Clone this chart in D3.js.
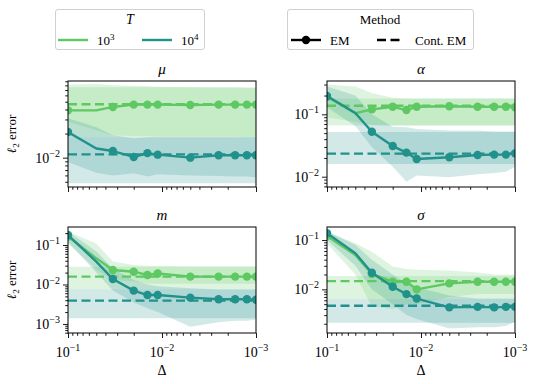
<!DOCTYPE html>
<html>
<head>
<meta charset="utf-8">
<script src="https://cdn.jsdelivr.net/npm/d3@7"></script>
<style>
body { margin: 0; background: #fff; }
svg, svg text, svg tspan { font-family: "Liberation Serif", "DejaVu Serif", "Times New Roman", serif !important; fill: #000; }
</style>
</head>
<body>
<svg id="chart" width="540" height="384" font-family="Liberation Serif, DejaVu Serif, serif"></svg>
<script>
// step sizes (x axis), 0.05 has no marker
const deltas = [0.1, 0.05, 1/30, 0.02, 1/70, 1/90, 0.005, 0.0025, 1/600, 1/800, 0.001];
const marked = [1, 0, 1, 1, 1, 1, 1, 1, 1, 1, 1];
const tExps = ["3", "4"];
const methods = ["EM", "Cont. EM"];

// mu
const muEM3   = [0.039, 0.039, 0.043, 0.046, 0.046, 0.046, 0.0455, 0.046, 0.046, 0.046, 0.046];
const muEM3Lo = [0.028, 0.022, 0.019, 0.0185, 0.0185, 0.0183, 0.0183, 0.0182, 0.0182, 0.018, 0.018];
const muEM3Hi = [0.082, 0.083, 0.08, 0.079, 0.078, 0.077, 0.076, 0.075, 0.075, 0.074, 0.074];
const muEM4   = [0.0209, 0.013, 0.0121, 0.0102, 0.0114, 0.0109, 0.01, 0.0107, 0.0107, 0.0107, 0.0107];
const muEM4Lo = [0.0088, 0.0065, 0.006, 0.0064, 0.0058, 0.0062, 0.006, 0.0059, 0.0058, 0.0058, 0.0057];
const muEM4Hi = [0.031, 0.024, 0.019, 0.0175, 0.018, 0.018, 0.018, 0.018, 0.018, 0.018, 0.018];
const muCont3 = [0.0464, 0.018, 0.076];   // value, low, high
const muCont4 = [0.011, 0.0048, 0.018];

// alpha
const alEM3   = [0.19, 0.104, 0.12, 0.132, 0.117, 0.132, 0.135, 0.132, 0.132, 0.132, 0.13];
const alEM3Lo = [0.09, 0.075, 0.068, 0.066, 0.066, 0.066, 0.066, 0.066, 0.066, 0.066, 0.066];
const alEM3Hi = [0.3, 0.28, 0.22, 0.185, 0.18, 0.18, 0.18, 0.18, 0.18, 0.18, 0.18];
const alEM4   = [0.197, 0.105, 0.0526, 0.031, 0.0243, 0.0192, 0.0205, 0.0223, 0.0226, 0.0226, 0.0237];
const alEM4Lo = [0.13, 0.065, 0.03, 0.0145, 0.0083, 0.0105, 0.0098, 0.011, 0.0115, 0.012, 0.0145];
const alEM4Hi = [0.28, 0.2, 0.1, 0.063, 0.062, 0.058, 0.055, 0.055, 0.053, 0.053, 0.053];
const alCont3 = [0.137, 0.066, 0.18];
const alCont4 = [0.0234, 0.016, 0.052];

// m
const mEM3   = [0.165, 0.046, 0.0233, 0.0211, 0.0174, 0.019, 0.0158, 0.0158, 0.0158, 0.0158, 0.0158];
const mEM3Lo = [0.11, 0.024, 0.013, 0.012, 0.0105, 0.0105, 0.0105, 0.0105, 0.0105, 0.0105, 0.0105];
const mEM3Hi = [0.22, 0.11, 0.038, 0.031, 0.03, 0.03, 0.029, 0.029, 0.029, 0.029, 0.029];
const mEM4   = [0.179, 0.038, 0.0138, 0.007, 0.0054, 0.0054, 0.00464, 0.00423, 0.00423, 0.00423, 0.0041];
const mEM4Lo = [0.12, 0.02, 0.007, 0.0035, 0.0025, 0.002, 0.00085, 0.0011, 0.0012, 0.0012, 0.0013];
const mEM4Hi = [0.22, 0.07, 0.025, 0.013, 0.01, 0.009, 0.008, 0.0075, 0.0075, 0.0075, 0.0075];
const mCont3 = [0.0158, 0.0076, 0.028];
const mCont4 = [0.0039, 0.0014, 0.0076];

// sigma
const sgEM3   = [0.12, 0.05, 0.0205, 0.0143, 0.0143, 0.01, 0.0132, 0.0143, 0.0143, 0.0143, 0.0143];
const sgEM3Lo = [0.085, 0.02, 0.0045, 0.004, 0.005, 0.005, 0.007, 0.008, 0.008, 0.008, 0.008];
const sgEM3Hi = [0.147, 0.086, 0.058, 0.029, 0.026, 0.025, 0.024, 0.022, 0.02, 0.02, 0.02];
const sgEM4   = [0.137, 0.054, 0.0217, 0.0113, 0.008, 0.0065, 0.00431, 0.0044, 0.0043, 0.0044, 0.0044];
const sgEM4Lo = [0.1, 0.03, 0.01, 0.005, 0.003, 0.0025, 0.0016, 0.0017, 0.0017, 0.0018, 0.0022];
const sgEM4Hi = [0.15, 0.08, 0.04, 0.02, 0.013, 0.011, 0.0075, 0.0065, 0.0065, 0.0065, 0.0065];
const sgCont3 = [0.0147, 0.0064, 0.0186];
const sgCont4 = [0.00465, 0.0021, 0.0064];

const colors = ["#5ec962", "#21918c"];
const W = 188, H = 106;
const FONT = "Liberation Serif, DejaVu Serif, serif";

const panels = [
    {title: "μ", left: 68, top: 81, yDomain: [0.0043, 0.0907], yLabel: true, xLabels: false,
     em: [[muEM3, muEM3Lo, muEM3Hi], [muEM4, muEM4Lo, muEM4Hi]], cont: [muCont3, muCont4]},
    {title: "α", left: 327, top: 81, yDomain: [0.00684, 0.342], yLabel: false, xLabels: false,
     em: [[alEM3, alEM3Lo, alEM3Hi], [alEM4, alEM4Lo, alEM4Hi]], cont: [alCont3, alCont4]},
    {title: "m", left: 68, top: 227, yDomain: [0.00059, 0.286], yLabel: true, xLabels: true,
     em: [[mEM3, mEM3Lo, mEM3Hi], [mEM4, mEM4Lo, mEM4Hi]], cont: [mCont3, mCont4]},
    {title: "σ", left: 327, top: 227, yDomain: [0.0013, 0.184], yLabel: false, xLabels: true,
     em: [[sgEM3, sgEM3Lo, sgEM3Hi], [sgEM4, sgEM4Lo, sgEM4Hi]], cont: [sgCont3, sgCont4]}
];

const svg = d3.select("#chart");

// "10" with a superscript exponent
function powLabel(sel, exp, size, supSize) {
    sel.append("tspan").attr("font-size", size).text("10");
    sel.append("tspan").attr("font-size", supSize).attr("dy", -size * 0.42).text(exp);
}

function logTicks(domain) {
    const lo = Math.min(...domain), hi = Math.max(...domain);
    let major = [], minor = [];
    for (let e = -5; e <= 1; e++) {
        for (let k = 1; k < 10; k++) {
            const v = k * Math.pow(10, e);
            if (v >= lo * 0.999 && v <= hi * 1.001) (k === 1 ? major : minor).push(v);
        }
    }
    return {major, minor};
}

panels.forEach((p, pi) => {
    const x = d3.scaleLog().domain([0.1, 0.001]).range([p.left, p.left + W]);
    const y = d3.scaleLog().domain(p.yDomain).range([p.top + H, p.top]);

    const clipId = "clip" + pi;
    svg.append("clipPath").attr("id", clipId).append("rect")
        .attr("x", p.left).attr("y", p.top).attr("width", W).attr("height", H);
    const g = svg.append("g").attr("clip-path", "url(#" + clipId + ")");

    // bands
    [0, 1].forEach(k => {
        const [v, lo, hi] = p.em[k];
        const area = d3.area()
            .x((d, i) => x(deltas[i]))
            .y0((d, i) => y(lo[i]))
            .y1((d, i) => y(hi[i]));
        g.append("path").datum(v).attr("d", area)
            .attr("fill", colors[k]).attr("fill-opacity", 0.2);
        const c = p.cont[k];
        const contArea = d3.area().x(d => x(d)).y0(y(c[1])).y1(y(c[2]));
        g.append("path").datum([0.1, 0.001]).attr("d", contArea)
            .attr("fill", colors[k]).attr("fill-opacity", 0.2);
    });

    // lines
    [0, 1].forEach(k => {
        const [v] = p.em[k];
        const c = p.cont[k];
        g.append("path").datum([0.1, 0.001])
            .attr("d", d3.line().x(d => x(d)).y(y(c[0])))
            .attr("fill", "none").attr("stroke", colors[k])
            .attr("stroke-width", 2.4).attr("stroke-dasharray", "9,4.5");
        g.append("path").datum(v)
            .attr("d", d3.line().x((d, i) => x(deltas[i])).y(d => y(d)))
            .attr("fill", "none").attr("stroke", colors[k])
            .attr("stroke-width", 2.4).attr("stroke-linejoin", "round");
        v.forEach((d, i) => {
            if (!marked[i]) return;
            g.append("circle").attr("cx", x(deltas[i])).attr("cy", y(d))
                .attr("r", 4.2).attr("fill", colors[k]);
        });
    });

    // x axis
    const xt = logTicks([0.1, 0.001]);
    const xAxis = svg.append("g").attr("transform", "translate(0," + (p.top + H) + ")");
    xAxis.call(d3.axisBottom(x).tickValues(xt.major).tickSize(5).tickSizeOuter(0).tickFormat(""));
    xAxis.append("g").call(d3.axisBottom(x).tickValues(xt.minor).tickSize(2.8).tickSizeOuter(0).tickFormat(""));
    xAxis.selectAll(".domain").remove();
    xAxis.selectAll("line").attr("stroke", "#000").attr("stroke-width", 0.9);
    xAxis.attr("font-family", FONT);
    if (p.xLabels) {
        xt.major.forEach(v => {
            const t = xAxis.append("text").attr("x", x(v)).attr("y", 24)
                .attr("text-anchor", "middle").attr("font-family", FONT);
            powLabel(t, "−" + Math.round(-Math.log10(v)), 14, 10);
        });
        svg.append("text").attr("x", p.left + W / 2).attr("y", p.top + H + 42)
            .attr("text-anchor", "middle").attr("font-size", 14).attr("font-family", FONT).text("Δ");
    }

    // y axis
    const yt = logTicks(p.yDomain);
    const yAxis = svg.append("g").attr("transform", "translate(" + p.left + ",0)");
    yAxis.call(d3.axisLeft(y).tickValues(yt.major).tickSize(5).tickSizeOuter(0).tickFormat(""));
    yAxis.append("g").call(d3.axisLeft(y).tickValues(yt.minor).tickSize(2.8).tickSizeOuter(0).tickFormat(""));
    yAxis.selectAll(".domain").remove();
    yAxis.selectAll("line").attr("stroke", "#000").attr("stroke-width", 0.9);
    yAxis.attr("font-family", FONT);
    yt.major.forEach(v => {
        const t = yAxis.append("text").attr("x", -8).attr("y", y(v) + 5)
            .attr("text-anchor", "end").attr("font-family", FONT);
        powLabel(t, "−" + Math.round(-Math.log10(v)), 14, 10);
    });

    // frame
    svg.append("rect").attr("x", p.left).attr("y", p.top).attr("width", W).attr("height", H)
        .attr("fill", "none").attr("stroke", "#000").attr("stroke-width", 1);

    // title
    svg.append("text").attr("x", p.left + W / 2).attr("y", p.top - 7)
        .attr("text-anchor", "middle").attr("font-size", 15).attr("font-style", "italic")
        .attr("font-family", FONT).text(p.title);

    if (p.yLabel) {
        const yl = svg.append("text")
            .attr("transform", "translate(16," + (p.top + H / 2) + ") rotate(-90)")
            .attr("text-anchor", "middle").attr("font-size", 13).attr("font-family", FONT);
        yl.append("tspan").attr("font-style", "italic").text("ℓ");
        yl.append("tspan").attr("font-size", 9).attr("dy", 3).text("2");
        yl.append("tspan").attr("dy", -3).text(" error");
    }
});

// legend: T
const leg1 = svg.append("g").attr("font-family", FONT);
leg1.append("rect").attr("x", 55.5).attr("y", 9.5).attr("width", 149).attr("height", 40)
    .attr("rx", 2.5).attr("fill", "#fff").attr("fill-opacity", 0.8)
    .attr("stroke", "#d0d0d0").attr("stroke-width", 1);
leg1.append("text").attr("x", 130).attr("y", 24).attr("text-anchor", "middle")
    .attr("font-size", 14).attr("font-style", "italic").text("T");
const leg1X = [58, 142];
tExps.forEach((e, k) => {
    leg1.append("line").attr("x1", leg1X[k]).attr("x2", leg1X[k] + 30)
        .attr("y1", 40).attr("y2", 40).attr("stroke", colors[k]).attr("stroke-width", 2.4);
    const t = leg1.append("text").attr("x", leg1X[k] + 39).attr("y", 45);
    powLabel(t, e, 13, 9);
});

// legend: Method
const leg2 = svg.append("g").attr("font-family", FONT);
leg2.append("rect").attr("x", 287.5).attr("y", 9.5).attr("width", 186).attr("height", 40)
    .attr("rx", 2.5).attr("fill", "#fff").attr("fill-opacity", 0.8)
    .attr("stroke", "#d0d0d0").attr("stroke-width", 1);
leg2.append("text").attr("x", 380).attr("y", 24).attr("text-anchor", "middle")
    .attr("font-size", 13).text("Method");
const leg2X = [291, 377];
methods.forEach((m, k) => {
    const ln = leg2.append("line").attr("x1", leg2X[k]).attr("x2", leg2X[k] + (k ? 25 : 30))
        .attr("y1", 40).attr("y2", 40).attr("stroke", "#000").attr("stroke-width", 2.4);
    if (k) ln.attr("stroke-dasharray", "9,4.5");
    else leg2.append("circle").attr("cx", leg2X[k] + 15).attr("cy", 40).attr("r", 4.2).attr("fill", "#000");
    leg2.append("text").attr("x", leg2X[k] + (k ? 38 : 39)).attr("y", 45)
        .attr("font-size", 13).text(m);
});
</script>
</body>
</html>
